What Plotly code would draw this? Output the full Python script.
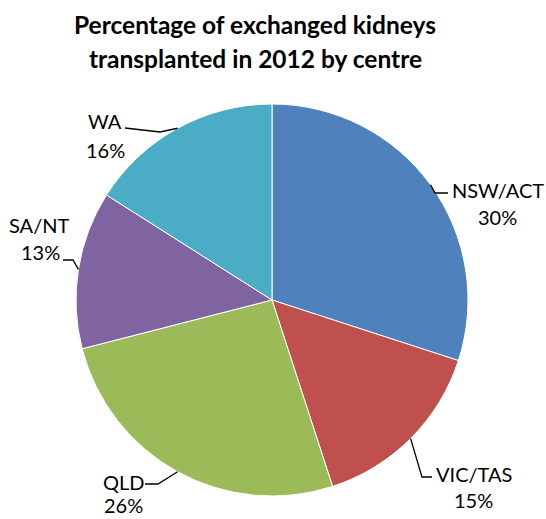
import math
import plotly.graph_objects as go

# Data
centres = ["NSW/ACT", "VIC/TAS", "QLD", "SA/NT", "WA"]
percentages = [30, 15, 26, 13, 16]
colours = ["#4F81BD", "#C0504D", "#9BBB59", "#8064A2", "#4BACC6"]
title_lines = ["Percentage of exchanged kidneys", "transplanted in 2012 by centre"]

W, H = 546, 519
CX, CY, R = 272, 300, 196  # pie centre and radius in pixels
FONT = "Lato, Carlito, 'Open Sans', sans-serif"

# Label layout (style only): name/percent text centres and leader elbow points, in pixels
label_style = {
    "NSW/ACT": {"name": (498, 189.5), "pct": (497.5, 217.5), "elbow": (435, 193), "end": (448, 193)},
    "VIC/TAS": {"name": (474, 474), "pct": (473.5, 499.5), "elbow": (422, 477), "end": (432, 477)},
    "QLD": {"name": (123.5, 482), "pct": (123.5, 505), "elbow": (158, 484), "end": (145, 484)},
    "SA/NT": {"name": (38.5, 225), "pct": (40, 252), "elbow": (73, 260), "end": (63, 260)},
    "WA": {"name": (105, 120.5), "pct": (105, 149.5), "elbow": (160, 132), "end": (125, 128)},
}


def px(x):
    return x / W


def py(y):
    return 1 - y / H


fig = go.Figure(
    go.Pie(
        labels=centres,
        values=percentages,
        sort=False,
        direction="clockwise",
        rotation=0,
        textinfo="none",
        hoverinfo="label+percent",
        marker=dict(colors=colours, line=dict(color="white", width=1)),
        domain=dict(x=[(CX - R) / W, (CX + R) / W], y=[1 - (CY + R) / H, 1 - (CY - R) / H]),
        showlegend=False,
    )
)

total = sum(percentages)
cum = 0
shapes = []
annotations = []
for name, val in zip(centres, percentages):
    mid = (cum + val / 2) / total * 2 * math.pi
    cum += val
    ex = CX + R * math.sin(mid)
    ey = CY - R * math.cos(mid)
    st = label_style[name]
    (bx, by), (fx, fy) = st["elbow"], st["end"]
    path = f"M {px(ex)} {py(ey)} L {px(bx)} {py(by)} L {px(fx)} {py(fy)}"
    shapes.append(dict(type="path", xref="paper", yref="paper", path=path,
                       line=dict(color="black", width=1.3)))
    for key, txt in (("name", name), ("pct", f"{round(val / total * 100)}%")):
        tx, ty = st[key]
        annotations.append(dict(
            x=px(tx), y=py(ty), xref="paper", yref="paper",
            text=txt, showarrow=False,
            font=dict(family=FONT, size=20, color="black"),
            xanchor="center", yanchor="middle",
        ))

for line, ty in zip(title_lines, (24.5, 58.5)):
    annotations.append(dict(
        x=px(255), y=py(ty), xref="paper", yref="paper",
        text=f"<b>{line}</b>", showarrow=False,
        font=dict(family=FONT, size=24.5, color="black"),
        xanchor="center", yanchor="middle",
    ))

fig.update_layout(
    width=W, height=H,
    margin=dict(l=0, r=0, t=0, b=0),
    paper_bgcolor="white",
    plot_bgcolor="white",
    shapes=shapes,
    annotations=annotations,
)

fig.write_html(
    "out.html",
    config={"displayModeBar": False},
    post_script="document.body.style.margin='0';document.body.style.overflow='hidden';",
)
